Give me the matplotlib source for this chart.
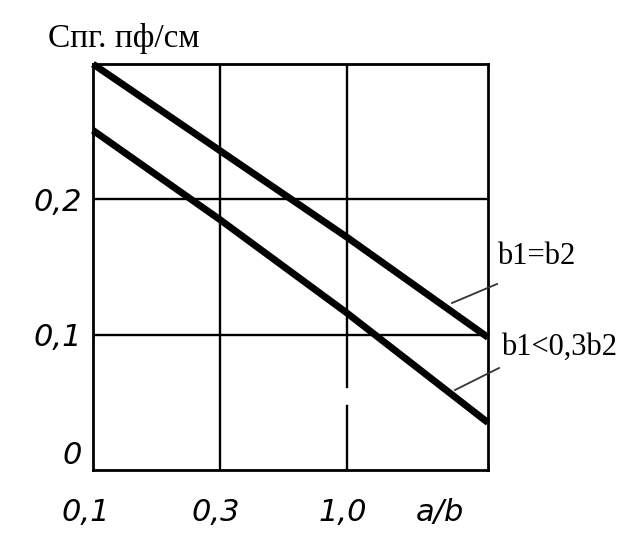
import matplotlib
matplotlib.use("Agg")
import matplotlib.pyplot as plt
import matplotlib.transforms as mtransforms

# x positions are on an index scale: 0.1, 0.3, 1.0, then the right edge
x_pos = [0.0, 1.0, 2.0, 3.11]
x_tick_pos = [-0.06, 0.97, 1.97, 2.73]
x_tick_labels = ["0,1", "0,3", "1,0", "a/b"]
y_ticks = [0.0, 0.1, 0.2]
y_tick_labels = ["0", "0,1", "0,2"]

upper = [0.300, 0.236, 0.172, 0.098]   # b1=b2
lower = [0.251, 0.185, 0.116, 0.035]   # b1<0,3b2

fig = plt.figure(figsize=(6.33, 5.42), dpi=100)
ax = fig.add_axes([0.1469, 0.1328, 0.624, 0.749])

lw_grid = 1.7
for sp in ax.spines.values():
    sp.set_linewidth(2.0)

# grid
ax.axvline(1.0, color="black", lw=lw_grid, zorder=1)
ax.axvline(2.0, ymin=0.0, ymax=0.047 / 0.3, color="black", lw=lw_grid, zorder=1)
ax.axvline(2.0, ymin=0.061 / 0.3, ymax=1.0, color="black", lw=lw_grid, zorder=1)
ax.axhline(0.1, color="black", lw=lw_grid, zorder=1)
ax.axhline(0.2, color="black", lw=lw_grid, zorder=1)

ax.plot(x_pos, upper, color="black", lw=5.0, solid_capstyle="butt", zorder=3, clip_on=False)
ax.plot(x_pos, lower, color="black", lw=5.0, solid_capstyle="butt", zorder=3, clip_on=False)

tick_font = dict(family="DejaVu Sans", style="italic", size=22)
ax.set_xticks([])
ax.set_yticks(y_ticks)
ax.set_yticklabels(y_tick_labels, fontdict=tick_font)
ax.set_xlim(0, 3.11)
ax.set_ylim(0, 0.3)
ax.tick_params(length=0, pad=8)
ylab0 = ax.get_yticklabels()[0]
ylab0.set_verticalalignment("bottom")

# x tick labels as text in the tick row
trans = mtransforms.blended_transform_factory(ax.transData, ax.transAxes)
for xp, lab in zip(x_tick_pos, x_tick_labels):
    ax.text(xp, -0.104, lab, transform=trans, ha="center", va="center",
            clip_on=False, **tick_font)

# title label
fig.text(48 / 633, 1 - 39 / 542, "Спг. пф/см", family="Liberation Serif",
         size=24, va="center", ha="left")

# curve labels with leader lines
fig.text(497 / 633, 1 - 256 / 542, "b1=b2", family="Liberation Serif",
         size=22, va="center", ha="left")
fig.text(501 / 633, 1 - 347 / 542, "b1<0,3b2", family="Liberation Serif",
         size=22, va="center", ha="left")
fig.add_artist(plt.Line2D([452 / 633, 497 / 633], [1 - 303 / 542, 1 - 284 / 542],
                          color="#333333", lw=1.3))
fig.add_artist(plt.Line2D([455 / 633, 499 / 633], [1 - 390 / 542, 1 - 368 / 542],
                          color="#333333", lw=1.3))

fig.savefig("out.png", dpi=100)
